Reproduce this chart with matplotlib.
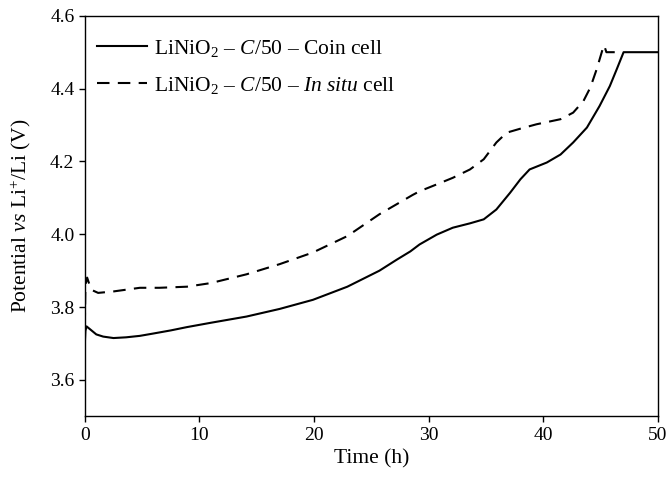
import matplotlib
matplotlib.use("Agg")
import matplotlib.pyplot as plt
from matplotlib.ticker import FormatStrFormatter

plt.rcParams['font.family'] = ['Liberation Serif', 'DejaVu Serif']
plt.rcParams['mathtext.fontset'] = 'custom'
plt.rcParams['mathtext.rm'] = 'Liberation Serif'
plt.rcParams['mathtext.it'] = 'Liberation Serif:italic'

# Coin cell (solid)
t_coin = [0.0, 0.05, 0.15, 0.5, 1.0, 1.6, 2.5, 3.6, 4.8, 5.9, 7.5, 8.9, 11.0,
          14.1, 17.0, 19.9, 22.9, 25.7, 27.2, 28.4, 29.2, 30.7, 32.1, 33.6, 34.8,
          35.9, 37.1, 38.0, 38.8, 40.3, 41.5, 42.6, 43.8, 44.9, 45.8, 46.4, 47.0,
          50.0]
v_coin = [3.70, 3.735, 3.747, 3.738, 3.725, 3.719, 3.715, 3.717, 3.721, 3.727,
          3.736, 3.745, 3.757, 3.774, 3.795, 3.82, 3.856, 3.90, 3.93, 3.953, 3.972,
          3.999, 4.018, 4.030, 4.041, 4.068, 4.114, 4.151, 4.178, 4.197, 4.219,
          4.252, 4.293, 4.352, 4.407, 4.453, 4.50, 4.50]

# In situ cell (dashed)
t_insitu = [0.0, 0.05, 0.2, 0.4, 0.6, 1.16, 2.5, 4.8, 6.5, 8.9, 11.0, 14.1, 17.0,
            19.9, 22.9, 25.7, 28.6, 29.2, 30.7, 32.1, 33.6, 34.8, 35.9, 36.8, 38.0,
            39.4, 41.5, 42.6, 43.5, 44.1, 44.65, 45.17, 45.3, 45.5, 46.8]
v_insitu = [3.75, 3.86, 3.881, 3.862, 3.847, 3.839, 3.843, 3.853, 3.853, 3.856,
            3.866, 3.89, 3.918, 3.95, 3.995, 4.055, 4.108, 4.118, 4.137, 4.155,
            4.178, 4.206, 4.252, 4.279, 4.290, 4.302, 4.316, 4.334, 4.366, 4.403,
            4.453, 4.508, 4.519, 4.50, 4.50]

fig = plt.figure(figsize=(6.68, 4.78), dpi=100)
ax = fig.add_axes([0.127, 0.129, 0.858, 0.838])

ax.plot(t_coin, v_coin, color='black', linewidth=1.5,
        label='LiNiO$_2$ – $C$/50 – Coin cell')
ax.plot(t_insitu, v_insitu, color='black', linewidth=1.5, linestyle=(0, (6, 4)),
        label='LiNiO$_2$ – $C$/50 – $In\\ situ$ cell')

ax.set_xlim(0, 50)
ax.set_ylim(3.5, 4.6)
ax.set_xticks([0, 10, 20, 30, 40, 50])
ax.set_yticks([3.6, 3.8, 4.0, 4.2, 4.4, 4.6])
ax.yaxis.set_major_formatter(FormatStrFormatter('%.1f'))
ax.tick_params(direction='out', length=4, labelsize=14, width=1)
for s in ax.spines.values():
    s.set_linewidth(1)

ax.set_xlabel('Time (h)', fontsize=15.5)
ax.set_ylabel('Potential $vs$ Li$^{+}$/Li (V)', fontsize=15.5)
ax.yaxis.set_label_coords(-0.09, 0.5)

ax.legend(loc='upper left', bbox_to_anchor=(-0.005, 0.983), frameon=False,
          fontsize=15.5, handlelength=2.3, labelspacing=0.75,
          borderaxespad=0.3, handletextpad=0.35)

fig.savefig('out.png', dpi=100)
